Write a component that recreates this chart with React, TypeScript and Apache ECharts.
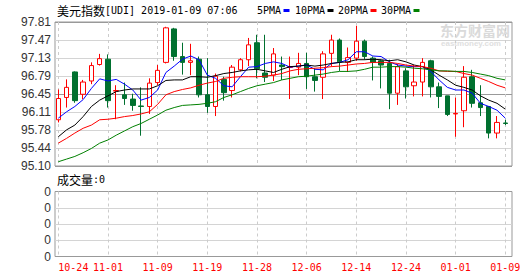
import React, { useEffect, useRef } from 'react';
import * as echarts from 'echarts';

const dates = [
  '10-24', '10-25', '10-26', '10-29', '10-30', '10-31',
  '11-01', '11-02', '11-05', '11-06', '11-07', '11-08',
  '11-09', '11-12', '11-13', '11-14', '11-15', '11-16',
  '11-19', '11-20', '11-21', '11-23', '11-26', '11-27',
  '11-28', '11-29', '11-30', '12-03', '12-04', '12-05',
  '12-06', '12-07', '12-10', '12-11', '12-12', '12-13',
  '12-14', '12-17', '12-18', '12-19', '12-20', '12-21',
  '12-24', '12-25', '12-26', '12-27', '12-28', '12-31',
  '01-01', '01-02', '01-03', '01-04', '01-07', '01-08',
  '01-09',
];

// [open, close, low, high]
const candles = [
  [95.97, 96.37, 95.92, 96.54],
  [96.39, 96.58, 96.20, 96.73],
  [96.87, 96.33, 96.29, 96.88],
  [96.45, 96.68, 96.36, 96.72],
  [96.70, 96.99, 96.64, 97.05],
  [97.01, 97.12, 96.99, 97.21],
  [97.11, 96.33, 96.20, 97.20],
  [96.51, 96.52, 95.98, 96.62],
  [96.44, 96.37, 96.25, 96.67],
  [96.36, 96.24, 96.14, 96.46],
  [96.23, 96.22, 95.67, 96.58],
  [96.22, 96.66, 96.08, 96.75],
  [96.67, 96.90, 96.62, 97.00],
  [97.05, 97.70, 97.03, 97.72],
  [97.68, 97.16, 97.08, 97.70],
  [97.16, 97.05, 96.82, 97.42],
  [97.05, 97.08, 96.81, 97.40],
  [97.11, 96.44, 96.39, 97.16],
  [96.44, 96.22, 96.10, 97.13],
  [96.22, 96.79, 96.04, 96.84],
  [96.73, 96.48, 96.33, 96.78],
  [96.52, 96.96, 96.39, 97.00],
  [96.91, 97.10, 96.88, 97.13],
  [97.10, 97.38, 96.98, 97.51],
  [97.42, 96.93, 96.75, 97.57],
  [96.85, 96.77, 96.68, 97.57],
  [96.81, 97.21, 96.70, 97.32],
  [97.00, 96.97, 96.72, 97.16],
  [96.955, 96.97, 96.36, 97.16],
  [96.96, 97.03, 96.81, 97.23],
  [97.03, 96.78, 96.55, 97.23],
  [96.78, 96.71, 96.50, 96.94],
  [96.77, 97.21, 96.36, 97.26],
  [97.22, 97.47, 96.97, 97.57],
  [97.47, 97.06, 96.89, 97.50],
  [97.05, 97.14, 96.87, 97.33],
  [97.13, 97.45, 97.08, 97.74],
  [97.45, 97.16, 97.10, 97.48],
  [97.13, 97.05, 96.71, 97.16],
  [97.08, 97.00, 96.56, 97.10],
  [97.03, 96.47, 96.17, 97.10],
  [96.47, 96.97, 96.25, 97.02],
  [96.89, 96.59, 96.37, 96.94],
  [96.61, 96.68, 96.41, 97.00],
  [96.68, 97.05, 96.41, 97.13],
  [97.08, 96.59, 96.39, 97.10],
  [96.59, 96.41, 96.19, 96.67],
  [96.42, 96.07, 96.04, 96.42],
  [96.08, 96.09, 95.65, 96.39],
  [96.14, 96.77, 95.83, 96.98],
  [96.78, 96.28, 96.20, 96.91],
  [96.29, 96.20, 96.04, 96.62],
  [96.22, 95.72, 95.62, 96.23],
  [95.72, 95.92, 95.62, 96.04],
  [95.91, 95.90, 95.87, 95.97],
];

const ma5 = [
  96.00, 96.12, 96.22, 96.35, 96.56, 96.74, 96.70, 96.73, 96.64, 96.53,
  96.34, 96.39, 96.53, 96.86, 96.98, 97.11, 97.17, 97.10, 96.81, 96.75,
  96.61, 96.59, 96.78, 96.96, 96.97, 97.03, 97.06, 97.03, 96.96, 96.98,
  97.00, 96.92, 96.91, 97.03, 97.05, 97.10, 97.25, 97.25, 97.17, 97.16,
  97.06, 97.00, 96.98, 96.97, 96.97, 96.88, 96.72, 96.58, 96.53, 96.53,
  96.47, 96.28, 96.22, 96.15, 96.00,
];

const ma10 = [
  95.65, 95.78, 95.87, 96.03, 96.22, 96.34, 96.42, 96.50, 96.53, 96.55,
  96.55, 96.55, 96.61, 96.71, 96.72, 96.72, 96.78, 96.78, 96.77, 96.80,
  96.84, 96.86, 96.89, 96.91, 96.92, 96.89, 96.86, 96.92, 96.97, 96.98,
  97.00, 96.98, 97.00, 97.03, 97.05, 97.06, 97.10, 97.10, 97.11, 97.10,
  97.08, 97.10, 97.06, 97.00, 96.97, 96.91, 96.81, 96.72, 96.62, 96.58,
  96.53, 96.42, 96.34, 96.28, 96.17,
];

const ma20 = [
  95.53, 95.62, 95.72, 95.81, 95.87, 95.97, 95.98, 96.00, 96.03, 96.05,
  96.08, 96.12, 96.26, 96.44, 96.50, 96.54, 96.57, 96.62, 96.66, 96.69,
  96.75, 96.77, 96.78, 96.78, 96.78, 96.79, 96.81, 96.84, 96.89, 96.92,
  96.93, 96.94, 96.95, 96.97, 96.98, 97.00, 97.02, 97.03, 97.05, 97.05,
  97.05, 97.03, 97.00, 96.98, 96.97, 96.94, 96.89, 96.88, 96.88, 96.84,
  96.81, 96.75, 96.69, 96.62, 96.57,
];

const ma30 = [
  95.18, 95.23, 95.28, 95.35, 95.43, 95.53, 95.59, 95.68, 95.76, 95.84,
  95.90, 95.98, 96.06, 96.15, 96.20, 96.24, 96.25, 96.26, 96.28, 96.31,
  96.39, 96.44, 96.50, 96.56, 96.61, 96.64, 96.67, 96.72, 96.75, 96.78,
  96.79, 96.81, 96.83, 96.86, 96.88, 96.88, 96.89, 96.92, 96.96, 96.96,
  96.97, 96.97, 96.96, 96.94, 96.93, 96.91, 96.89, 96.89, 96.88, 96.88,
  96.86, 96.83, 96.80, 96.75, 96.72,
];

const priceTicks = ['95.10', '95.44', '95.78', '96.11', '96.45', '96.79', '97.13', '97.47', '97.81'];
const volumeTicks = ['0', '0', '0', '0', '0'];
const maNames = ['5PMA', '10PMA', '20PMA', '30PMA'];
const maColors = ['#0000ff', '#000000', '#ff0000', '#008000'];
const priceMin = 95.1;
const priceMax = 97.81;
const titleName = '美元指数';
const titleRest = '[UDI] 2019-01-09 07:06';
const volumeLabel = '成交量';
const volumeValue = ':0';

export default function App() {
  const ref = useRef<HTMLDivElement>(null);

  useEffect(() => {
    if (!ref.current) return;
    const chart = echarts.init(ref.current, null, { renderer: 'svg' });
    const mono = 'DejaVu Sans Mono';
    const cjk = 'Noto Sans CJK SC';
    const sans = 'Liberation Sans';
    const frame = '#999999';
    const light = '#d4d4d4';
    const dashColor = '#cccccc';
    const up = '#ff0000';
    const down = '#00702f';

    const maSeries = [ma5, ma10, ma20, ma30].map((d, i) => ({
      name: maNames[i],
      type: 'line',
      xAxisIndex: 1,
      yAxisIndex: 1,
      data: d,
      symbol: 'none',
      silent: true,
      lineStyle: { width: 1, color: maColors[i] },
      z: 3,
    }));

    const legendX = [257, 295, 338, 381];
    const legendGraphics: any[] = [];
    maNames.forEach((n, i) => {
      legendGraphics.push({
        type: 'text',
        x: legendX[i],
        y: 10,
        style: { text: n, fill: '#000', font: `10px "${mono}"`, verticalAlign: 'middle' },
      });
      legendGraphics.push({
        type: 'rect',
        shape: { x: legendX[i] + n.length * 6 + 2.5, y: 9, width: 6, height: 3 },
        style: { fill: maColors[i] },
      });
    });

    const option: any = {
      animation: false,
      backgroundColor: '#ffffff',
      grid: [
        { left: 55, right: 18, top: 22, height: 144, show: true, borderColor: frame, borderWidth: 1 },
        { left: 58.3, width: 447, top: 22, height: 144 },
        { left: 55, right: 18, top: 191.5, height: 65, show: true, borderColor: frame, borderWidth: 1 },
        { left: 58.3, width: 447, top: 191.5, height: 65 },
      ],
      xAxis: [
        { type: 'value', gridIndex: 0, show: false, min: 0, max: 1 },
        {
          type: 'category', gridIndex: 1, data: dates, boundaryGap: false,
          axisLine: { show: false }, axisTick: { show: false }, axisLabel: { show: false },
          splitLine: { show: true, interval: 5, lineStyle: { color: dashColor, type: [3, 3], width: 1 } },
        },
        { type: 'value', gridIndex: 2, show: false, min: 0, max: 1 },
        {
          type: 'category', gridIndex: 3, data: dates, boundaryGap: false,
          axisLine: { show: false }, axisTick: { show: false },
          axisLabel: { show: true, interval: 5, color: '#ff0000', fontFamily: mono, fontSize: 10, margin: 6, alignMinLabel: 'left' },
          splitLine: { show: true, interval: 5, lineStyle: { color: dashColor, type: [3, 3], width: 1 } },
        },
      ],
      yAxis: [
        {
          type: 'value', gridIndex: 0, min: 0, max: 8, interval: 1,
          axisLine: { show: false }, axisTick: { show: false },
          axisLabel: { formatter: (v: number) => priceTicks[Math.round(v)], color: '#333', fontFamily: sans, fontSize: 12, margin: 4 },
          splitLine: { show: true, lineStyle: { color: [frame, light, light, light, frame, light, light, light, frame], width: 1 } },
        },
        { type: 'value', gridIndex: 1, min: priceMin, max: priceMax, show: false },
        {
          type: 'value', gridIndex: 2, min: 0, max: 4, interval: 1,
          axisLine: { show: false }, axisTick: { show: false },
          axisLabel: { formatter: (v: number) => volumeTicks[Math.round(v)], color: '#333', fontFamily: sans, fontSize: 12, margin: 4 },
          splitLine: { show: true, lineStyle: { color: [frame, light, light, light, frame], width: 1 } },
        },
        { type: 'value', gridIndex: 3, min: 0, max: 1, show: false },
      ],
      series: [
        {
          type: 'candlestick',
          xAxisIndex: 1,
          yAxisIndex: 1,
          data: candles,
          barWidth: 5,
          clip: false,
          z: 2,
          itemStyle: { color: '#ffffff', color0: down, borderColor: up, borderColor0: down, borderWidth: 1 },
        },
        ...maSeries,
      ],
      graphic: [
        {
          type: 'text', x: 440, y: 30,
          style: { text: '东方财富网', fill: '#dadada', font: `bold 14px "${cjk}"`, verticalAlign: 'middle' },
        },
        {
          type: 'text', x: 441, y: 43.5,
          style: { text: 'eastmoney.com', fill: '#e0e0e0', font: `bold 8px "${sans}"`, verticalAlign: 'middle' },
        },
        {
          type: 'text', x: 57, y: 10,
          style: { text: titleName, fill: '#000', font: `12px "${cjk}"`, verticalAlign: 'middle' },
        },
        {
          type: 'text', x: 105, y: 10,
          style: { text: titleRest, fill: '#000', font: `10px "${mono}"`, verticalAlign: 'middle' },
        },
        ...legendGraphics,
        {
          type: 'text', x: 57, y: 179.5,
          style: { text: volumeLabel, fill: '#000', font: `12px "${cjk}"`, verticalAlign: 'middle' },
        },
        {
          type: 'text', x: 93, y: 179.5,
          style: { text: volumeValue, fill: '#000', font: `10px "${mono}"`, verticalAlign: 'middle' },
        },
      ],
    };

    chart.setOption(option);
    return () => chart.dispose();
  }, []);

  return (
    <div
      ref={ref}
      style={{ position: 'absolute', left: 0, top: 0, width: 530, height: 276, background: '#fff' }}
    />
  );
}
